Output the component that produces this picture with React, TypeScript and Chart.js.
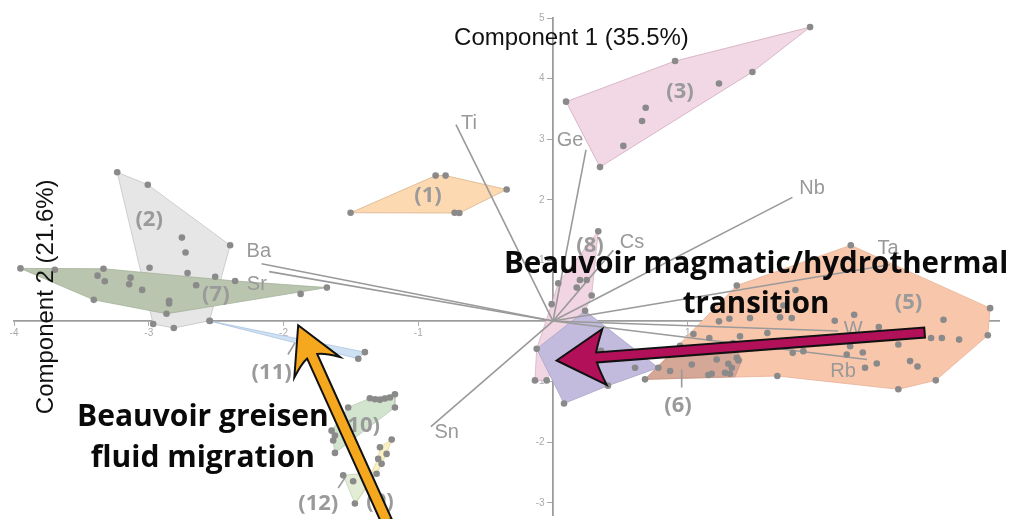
import React, { useEffect, useRef } from 'react';
import { Chart, registerables } from 'chart.js';

Chart.register(...registerables);

type P = [number, number];

// ---------- Axis ranges / ticks ----------
const xRange: P = [-4, 3.31];
const yRange: P = [-3.2, 5];
const axisTitleX = 'Component 1 (35.5%)';
const axisTitleY = 'Component 2 (21.6%)';

// ---------- Sample scores per group ----------
const g1Points: P[] = [[-1.502, 1.787], [-0.871, 2.4], [-0.797, 2.4], [-0.344, 2.17], [-0.73, 1.787], [-0.695, 1.782]];
const g1Hull: P[] = [[-1.502, 1.787], [-0.871, 2.4], [-0.797, 2.4], [-0.344, 2.17], [-0.695, 1.782]];

const g2Points: P[] = [[-3.234, 2.454], [-3.007, 2.25], [-2.754, 1.377], [-2.727, 1.131], [-2.396, 1.25], [-2.994, 0.88], [-2.712, 0.792], [-2.507, 0.732], [-2.549, 0.005], [-2.814, -0.115], [-2.967, -0.049]];
const g2Hull: P[] = [[-3.234, 2.454], [-3.007, 2.25], [-2.396, 1.25], [-2.549, 0.005], [-2.814, -0.115], [-2.967, -0.049]];

const g3Points: P[] = [[0.097, 3.62], [0.906, 4.29], [1.908, 4.85], [1.48, 4.11], [1.232, 3.92], [0.688, 3.52], [0.661, 3.3], [0.522, 2.89], [0.349, 2.54]];
const g3Hull: P[] = [[0.097, 3.62], [0.906, 4.29], [1.908, 4.85], [1.48, 4.11], [0.349, 2.54]];

const g4Points: P[] = [[0.082, -1.361], [0.609, -0.77], [0.356, -0.49], [0.408, -1.066]];
const g4Hull: P[] = [[-0.121, -0.459], [0.238, 0.169], [0.782, -0.77], [0.408, -1.066], [0.082, -1.361]];

const g5Points: P[] = [[2.21, 1.251], [1.364, 0.585], [1.799, 0.513], [1.71, 0.257], [3.244, 0.213], [2.235, 0.103], [1.232, -0.005], [1.309, 0.038], [1.462, 0.049], [1.685, 0.061], [1.772, 0.049], [2.091, 0.005], [2.898, 0.021], [2.418, -0.098], [2.806, -0.279], [2.886, -0.279], [3.014, -0.306], [3.227, -0.235], [1.591, -0.197], [1.042, -0.213], [1.16, -0.279], [1.388, -0.251], [2.563, -0.388], [2.205, -0.415], [2.18, -0.552], [2.299, -0.519], [1.779, -0.525], [1.858, -0.497], [2.403, -0.7], [2.65, -0.661], [2.705, -0.749], [2.316, -0.77], [2.841, -0.978], [2.563, -1.126], [1.665, -0.907]];
const g5Hull: P[] = [[2.21, 1.251], [3.244, 0.213], [3.227, -0.235], [2.841, -0.978], [2.563, -1.126], [1.665, -0.907], [0.683, -0.962], [1.364, 0.585]];

const g6Points: P[] = [[0.683, -0.962], [0.782, -0.77], [0.869, -0.825], [1.03, -0.716], [1.153, -0.89], [1.178, -0.869], [1.215, -0.634], [1.277, -0.852], [1.301, -0.705], [1.327, -0.77], [1.364, -0.607], [1.376, -0.651], [1.314, -0.869], [0.943, -0.41], [1.336, -0.361]];
const g6Hull: P[] = [[0.683, -0.962], [0.943, -0.41], [1.336, -0.361], [1.403, -0.639], [1.351, -0.918]];

const g7Points: P[] = [[-3.952, 0.869], [-3.697, 0.847], [-3.336, 0.863], [-3.38, 0.749], [-3.326, 0.656], [-3.135, 0.716], [-3.145, 0.607], [-3.049, 0.514], [-3.408, 0.35], [-2.849, 0.333], [-2.849, 0.29], [-2.868, 0.12], [-2.648, 0.59], [-2.359, 0.661], [-1.873, 0.448], [-1.678, 0.552]];
const g7Hull: P[] = [[-3.952, 0.869], [-3.336, 0.863], [-2.359, 0.661], [-1.678, 0.552], [-2.868, 0.12], [-3.408, 0.35]];

const g8Points: P[] = [[0.336, 1.48], [0.2, 0.677], [0.25, 0.677], [0.039, 0.623], [0.176, 0.552], [0.287, 0.421], [-0.01, 0.279], [0.238, 0.169], [-0.121, -0.459], [-0.134, -0.979], [-0.047, -0.979]];
const g8Hull: P[] = [[0.336, 1.48], [0.287, 0.421], [0.238, 0.169], [-0.047, -0.979], [-0.134, -0.979], [-0.121, -0.459], [-0.01, 0.279], [0.039, 0.623]];

const g9Points: P[] = [[-1.197, -1.956], [-1.284, -2.082], [-1.235, -2.192], [-1.297, -2.274], [-1.272, -2.356], [-1.309, -2.52]];
const g9Hull: P[] = [[-1.197, -1.956], [-1.235, -2.192], [-1.309, -2.52], [-1.457, -2.98], [-1.297, -2.274], [-1.284, -2.082]];

const g10Points: P[] = [[-1.359, -1.274], [-1.321, -1.29], [-1.284, -1.3], [-1.247, -1.279], [-1.21, -1.262], [-1.173, -1.208], [-1.173, -1.426], [-1.52, -1.426], [-1.643, -1.808], [-1.618, -1.89], [-1.631, -1.972], [-1.618, -2.175]];
const g10Hull: P[] = [[-1.359, -1.274], [-1.173, -1.208], [-1.173, -1.426], [-1.618, -2.175], [-1.643, -1.808], [-1.52, -1.426]];

const g11Points: P[] = [[-2.546, 0.0], [-1.396, -0.513], [-1.445, -0.623]];
const g11Hull: P[] = [[-2.546, 0.0], [-1.396, -0.513], [-1.445, -0.623]];

const g12Points: P[] = [[-1.557, -2.546], [-1.483, -2.644], [-1.47, -3.011]];
const g12Hull: P[] = [[-1.557, -2.546], [-1.31, -2.49], [-1.47, -3.011]];

// ---------- Group labels ----------
const groupNames = ['(1)', '(2)', '(3)', '(5)', '(6)', '(7)', '(8)', '(9)', '(10)', '(11)', '(12)'];
const groupLabelPos: P[] = [[-0.928, 2.07], [-2.997, 1.67], [0.943, 3.79], [2.638, 0.295], [0.928, -1.393], [-2.502, 0.431], [0.275, 1.25], [-1.284, -2.984], [-1.433, -1.721], [-2.088, -0.852], [-1.742, -3.011]];
const leaderLines: [P, P][] = [[[-1.967, -0.552], [-1.915, -0.361]], [[-1.594, -2.754], [-1.537, -2.562]], [[0.955, -0.798], [0.955, -1.098]]];

// ---------- Variable loadings ----------
const loadingNames = ['Ti', 'Ge', 'Nb', 'Cs', 'Ba', 'Sr', 'Ta', 'W', 'Rb', 'Sn'];
const loadingEnds: P[] = [[-0.72, 3.24], [0.245, 2.825], [1.777, 2.04], [0.448, 1.17], [-2.163, 0.946], [-2.106, 0.815], [2.5, 0.93], [2.116, -0.164], [2.33, -0.634], [-0.906, -1.743]];
const loadingLabelPos: P[] = [[-0.624, 3.26], [0.126, 2.98], [1.923, 2.18], [0.586, 1.295], [-2.183, 1.148], [-2.198, 0.607], [2.487, 1.2], [2.227, -0.131], [2.153, -0.836], [-0.789, -1.836]];

// ---------- Annotations ----------
const transitionText = ['Beauvoir magmatic/hydrothermal', 'transition'];
const transitionTextAnchor: P = [1.507, 0.787];
const greisenText = ['Beauvoir greisen', 'fluid migration'];
const greisenTextAnchor: P = [-2.598, -1.738];
const transitionArrow: [P, P] = [[2.758, -0.189], [0.027, -0.651]];
const greisenArrow: [P, P] = [[-1.235, -3.3], [-1.891, -0.07]];

const groups = [
  { hull: g5Hull, points: g5Points, fill: '#f8c6ab', stroke: '#e8b095' },
  { hull: g6Hull, points: g6Points, fill: '#d5a796', stroke: '#c39585' },
  { hull: g8Hull, points: g8Points, fill: '#f2d5e2', stroke: '#d8b2c4' },
  { hull: g4Hull, points: g4Points, fill: '#c3bbde', stroke: '#aaa3c9' },
  { hull: g2Hull, points: g2Points, fill: '#e6e6e6', stroke: '#c4c4c4' },
  { hull: g7Hull, points: g7Points, fill: '#b9c5ae', stroke: '#a3b198' },
  { hull: g1Hull, points: g1Points, fill: '#fdd9b2', stroke: '#d8b48f' },
  { hull: g3Hull, points: g3Points, fill: '#f2d8e4', stroke: '#cfaabb' },
  { hull: g11Hull, points: g11Points, fill: '#cfe2f4', stroke: '#a9c3df' },
  { hull: g10Hull, points: g10Points, fill: '#d2e3ce', stroke: '#b8ccb3' },
  { hull: g9Hull, points: g9Points, fill: '#faf2c4', stroke: '#e2d59a' },
  { hull: g12Hull, points: g12Points, fill: '#e3edd6', stroke: '#c5d3b5' },
];

const SANS = '"Liberation Sans", Arial, Helvetica, sans-serif';
const BOLD = '"Open Sans", "Noto Sans", sans-serif';
const GREY = '#999999';

const toXY = (p: P) => ({ x: p[0], y: p[1] });

function drawArrow(ctx: CanvasRenderingContext2D, x0: number, y0: number, x1: number, y1: number,
  shaftW: number, headLen: number, headHalf: number, notch: number, fill: string) {
  const dx = x1 - x0, dy = y1 - y0;
  const L = Math.hypot(dx, dy);
  const ux = dx / L, uy = dy / L;
  const nx = -uy, ny = ux;
  const P = (a: number, b: number): [number, number] => [x1 - ux * a + nx * b, y1 - uy * a + ny * b];
  const h = shaftW / 2;
  ctx.beginPath();
  ctx.moveTo(...P(0, 0));
  ctx.lineTo(...P(headLen, headHalf));
  ctx.quadraticCurveTo(...P(notch + 2, h + (headHalf - h) * 0.35), ...P(notch, h));
  ctx.lineTo(...P(L, h));
  ctx.lineTo(...P(L, -h));
  ctx.lineTo(...P(notch, -h));
  ctx.quadraticCurveTo(...P(notch + 2, -h - (headHalf - h) * 0.35), ...P(headLen, -headHalf));
  ctx.closePath();
  ctx.fillStyle = fill;
  ctx.fill();
  ctx.lineWidth = 2;
  ctx.lineJoin = 'miter';
  ctx.strokeStyle = '#111';
  ctx.stroke();
}

const overlayPlugin = {
  id: 'overlay',
  afterDraw(chart: any) {
    const { ctx, chartArea } = chart;
    const xs = chart.scales.x, ys = chart.scales.y;
    const px = (p: P): [number, number] => [xs.getPixelForValue(p[0]), ys.getPixelForValue(p[1])];
    ctx.save();
    // loading labels
    ctx.font = `20px ${SANS}`;
    ctx.fillStyle = GREY;
    ctx.textAlign = 'center';
    ctx.textBaseline = 'middle';
    loadingNames.forEach((n, i) => {
      const [x, y] = px(loadingLabelPos[i]);
      ctx.fillText(n, x, y);
    });
    // group labels
    ctx.font = `bold 22px ${BOLD}`;
    ctx.fillStyle = '#9a9a9a';
    groupNames.forEach((n, i) => {
      const [x, y] = px(groupLabelPos[i]);
      ctx.fillText(n, x, y);
    });
    // axis titles
    ctx.fillStyle = '#111';
    ctx.font = `24px ${SANS}`;
    ctx.textBaseline = 'alphabetic';
    ctx.fillText(axisTitleX, xs.getPixelForValue(0.137), chartArea.top + 27);
    ctx.save();
    ctx.translate(chartArea.left + 39, ys.getPixelForValue(0.4));
    ctx.rotate(-Math.PI / 2);
    ctx.fillText(axisTitleY, 0, 0);
    ctx.restore();
    // annotation texts
    ctx.font = `bold 29.5px ${BOLD}`;
    ctx.fillStyle = '#0a0a0a';
    const [tx, ty] = px(transitionTextAnchor);
    transitionText.forEach((t, i) => ctx.fillText(t, tx, ty + i * 40));
    ctx.font = `bold 30px ${BOLD}`;
    const [gx, gy] = px(greisenTextAnchor);
    greisenText.forEach((t, i) => ctx.fillText(t, gx, gy + i * 41));
    // arrows
    const [a0, a1] = [px(transitionArrow[0]), px(transitionArrow[1])];
    drawArrow(ctx, a0[0], a0[1], a1[0], a1[1], 10, 48, 28, 40, '#b3105a');
    const [b0, b1] = [px(greisenArrow[0]), px(greisenArrow[1])];
    drawArrow(ctx, b0[0], b0[1], b1[0], b1[1], 11, 46, 25, 34, '#f5a81e');
    ctx.restore();
  },
};

export default function App() {
  const ref = useRef<HTMLCanvasElement | null>(null);
  useEffect(() => {
    document.body.style.margin = '0';
    const canvas = ref.current!;
    const datasets: any[] = [];
    groups.forEach((g, i) => {
      datasets.push({
        data: [...g.hull, g.hull[0]].map(toXY),
        showLine: true,
        fill: 'shape',
        backgroundColor: g.fill,
        borderColor: g.stroke,
        borderWidth: 0.8,
        pointRadius: 0,
        order: 100 - i,
      });
    });
    loadingEnds.forEach((e) => {
      datasets.push({
        data: [{ x: 0, y: 0 }, toXY(e)],
        showLine: true,
        borderColor: '#9a9a9a',
        borderWidth: 1.6,
        pointRadius: 0,
        fill: false,
        order: 10,
      });
    });
    leaderLines.forEach((l) => {
      datasets.push({
        data: l.map(toXY),
        showLine: true,
        borderColor: '#9a9a9a',
        borderWidth: 1.6,
        pointRadius: 0,
        fill: false,
        order: 10,
      });
    });
    groups.forEach((g) => {
      datasets.push({
        data: g.points.map(toXY),
        showLine: false,
        pointRadius: 3.3,
        pointBackgroundColor: '#8a8a8a',
        pointBorderWidth: 0,
        order: 5,
      });
    });
    const zeroFit = (horizontal: boolean) => (s: any) => {
      if (horizontal) s.height = 0; else s.width = 0;
      s.paddingLeft = 0; s.paddingRight = 0; s.paddingTop = 0; s.paddingBottom = 0;
    };
    const intTicks = (s: any) => { s.ticks = s.ticks.filter((t: any) => Number.isInteger(t.value)); };
    const chart = new Chart(canvas, {
      type: 'scatter',
      data: { datasets },
      options: {
        animation: false,
        responsive: false,
        devicePixelRatio: 1,
        layout: { padding: { left: 14, right: 12, top: 18, bottom: 1 } },
        plugins: { legend: { display: false }, tooltip: { enabled: false } },
        scales: {
          x: {
            type: 'linear',
            min: xRange[0],
            max: xRange[1],
            position: { y: 0 } as any,
            z: 1,
            afterFit: zeroFit(true),
            afterBuildTicks: intTicks,
            grid: { drawOnChartArea: false, tickLength: 4, color: '#a8a8a8', lineWidth: 1 },
            border: { color: '#9c9c9c', width: 1.8 },
            ticks: {
              stepSize: 1,
              padding: 2,
              color: '#aaaaaa',
              font: { size: 10, family: SANS },
              callback: (v: any) => (v === 0 ? '' : String(v)),
            },
          },
          y: {
            type: 'linear',
            min: yRange[0],
            max: yRange[1],
            position: { x: 0 } as any,
            z: 1,
            afterFit: zeroFit(false),
            afterBuildTicks: intTicks,
            grid: { drawOnChartArea: false, tickLength: 5, color: '#a8a8a8', lineWidth: 1 },
            border: { color: '#9c9c9c', width: 1.8 },
            ticks: {
              stepSize: 1,
              color: '#aaaaaa',
              font: { size: 10, family: SANS },
              callback: (v: any) => (v === 0 ? '' : String(v) + '   '),
            },
          },
        },
      },
      plugins: [overlayPlugin],
    });
    return () => chart.destroy();
  }, []);
  return (
    <div style={{ position: 'absolute', left: 0, top: 0, width: 1011, height: 519, background: '#fff' }}>
      <canvas ref={ref} width={1011} height={519} style={{ display: 'block' }} />
    </div>
  );
}
